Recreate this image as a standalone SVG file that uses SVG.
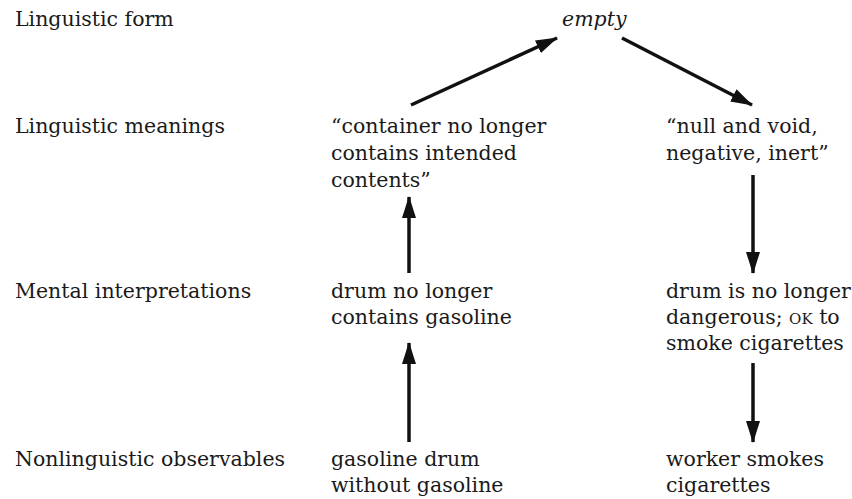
<svg xmlns="http://www.w3.org/2000/svg" width="852" height="499" viewBox="0 0 852 499">
<style>
.t{font-size:20.5px;fill:#1a1a1a}
.f2{font-family:"DejaVu Serif"}
.it{font-style:italic}
.sc{font-size:15px}
.conn line{stroke:#111;stroke-width:3.5;fill:none}
</style>
<defs>
<marker id="ah" viewBox="0 0 22 14" refX="21" refY="7" markerWidth="22" markerHeight="14" markerUnits="userSpaceOnUse" orient="auto">
<path d="M0,0 L22,7 L0,14 Z" fill="#111"/>
</marker>
</defs>
<rect width="852" height="499" fill="#fff"/>
<g id="row-labels" class="t f2">
<text x="15" y="26">Linguistic form</text>
<text x="15" y="133">Linguistic meanings</text>
<text x="15" y="298">Mental interpretations</text>
<text x="15" y="466">Nonlinguistic observables</text>
</g>
<g id="node-empty" class="t f2"><text class="it" x="562" y="26">empty</text></g>
<g id="node-meaning-left" class="t f2">
<text x="331" y="133">“container no longer</text>
<text x="331" y="160">contains intended</text>
<text x="331" y="187">contents”</text>
</g>
<g id="node-meaning-right" class="t f2">
<text x="666" y="133">“null and void,</text>
<text x="666" y="160">negative, inert”</text>
</g>
<g id="node-mental-left" class="t f2">
<text x="331" y="298">drum no longer</text>
<text x="331" y="324">contains gasoline</text>
</g>
<g id="node-mental-right" class="t f2">
<text x="666" y="298">drum is no longer</text>
<text x="666" y="324">dangerous; <tspan class="sc">OK</tspan> to</text>
<text x="666" y="350">smoke cigarettes</text>
</g>
<g id="node-obs-left" class="t f2">
<text x="331" y="466">gasoline drum</text>
<text x="331" y="492">without gasoline</text>
</g>
<g id="node-obs-right" class="t f2">
<text x="666" y="466">worker smokes</text>
<text x="666" y="492">cigarettes</text>
</g>
<g id="connectors" class="conn">
<line x1="411" y1="105" x2="557" y2="38" marker-end="url(#ah)"/>
<line x1="622" y1="38" x2="752" y2="105" marker-end="url(#ah)"/>
<line x1="409" y1="273" x2="409" y2="197" marker-end="url(#ah)"/>
<line x1="409" y1="442" x2="409" y2="343" marker-end="url(#ah)"/>
<line x1="753" y1="175" x2="753" y2="273" marker-end="url(#ah)"/>
<line x1="753" y1="363" x2="753" y2="442" marker-end="url(#ah)"/>
</g>
</svg>
